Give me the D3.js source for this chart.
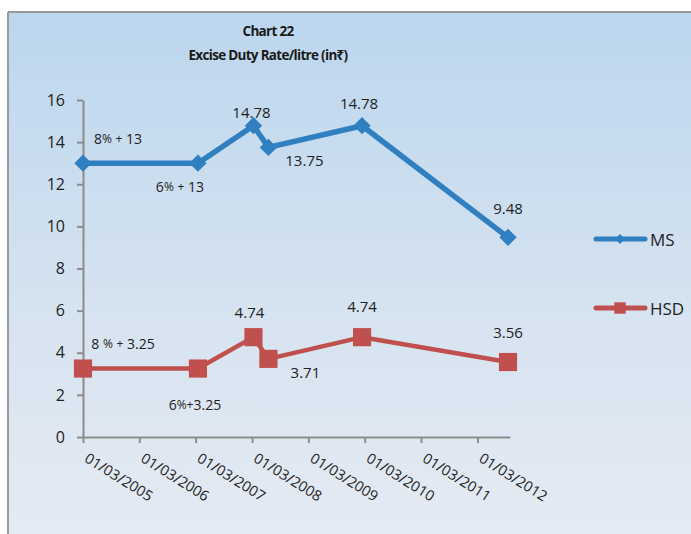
<!DOCTYPE html>
<html>
<head>
<meta charset="utf-8">
<script src="https://cdn.jsdelivr.net/npm/d3@7"></script>
<style>
  body { margin: 0; background: #fff; }
  svg { display: block; font-family: "Open Sans", "Noto Sans", sans-serif; }
</style>
</head>
<body>
<svg id="chart" width="691" height="534"></svg>
<script>
// data
var tickLabels = ["01/03/2005", "01/03/2006", "01/03/2007", "01/03/2008",
                  "01/03/2009", "01/03/2010", "01/03/2011", "01/03/2012"]
var changeDates = ["2005-03-01", "2007-03-16", "2008-03-10", "2008-06-15", "2010-02-12", "2012-09-15"]
var msValues = [13, 13, 14.78, 13.75, 14.78, 9.48]
var hsdValues = [3.25, 3.25, 4.74, 3.71, 4.74, 3.56]
var msLabels = ["8% + 13", "6% + 13", "14.78", "13.75", "14.78", "9.48"]
var hsdLabels = ["8 % + 3.25", "6%+3.25", "4.74", "3.71", "4.74", "3.56"]
var yTicks = [0, 2, 4, 6, 8, 10, 12, 14, 16]

// where each value label sits relative to its point
var msLabelOffsets = [[35, -25], [-18, 23], [-2, -14], [36, 13], [-3, -23], [0, -29]]
var hsdLabelOffsets = [[40, -26], [-3, 35], [-4, -25], [37, 13], [0, -31], [0, -30]]

var parseDay = d3.timeParse("%Y-%m-%d")
var parseTick = d3.timeParse("%d/%m/%Y")

var svg = d3.select("#chart")

// background panel
var defs = svg.append("defs")
var grad = defs.append("linearGradient")
    .attr("id", "bg")
    .attr("x1", 0).attr("y1", 0).attr("x2", 0).attr("y2", 1)
grad.append("stop").attr("offset", "0%").attr("stop-color", "#bcd6ee")
grad.append("stop").attr("offset", "55%").attr("stop-color", "#d6e3f0")
grad.append("stop").attr("offset", "100%").attr("stop-color", "#e6ebf4")

svg.append("rect")
    .attr("x", 8).attr("y", 12)
    .attr("width", 700).attr("height", 540)
    .attr("fill", "url(#bg)")
svg.append("line")
    .attr("x1", 8).attr("y1", 12).attr("x2", 691).attr("y2", 12)
    .attr("stroke", "#9a9a9a").attr("stroke-width", 2)
svg.append("line")
    .attr("x1", 8).attr("y1", 12).attr("x2", 8).attr("y2", 534)
    .attr("stroke", "#9a9a9a").attr("stroke-width", 2)

// title
var title = svg.append("text")
    .attr("x", 268)
    .attr("text-anchor", "middle")
    .attr("font-weight", "bold")
    .attr("font-size", 13.5)
    .attr("letter-spacing", -0.7)
    .attr("fill", "#1a1a1a")
title.append("tspan").attr("x", 268).attr("y", 36).text("Chart 22")
title.append("tspan").attr("x", 268).attr("y", 60).text("Excise Duty Rate/litre (in\u20B9)")

// scales
var x = d3.scaleTime()
    .domain([parseDay("2005-03-01"), parseDay("2012-09-28")])
    .range([83, 510])
var y = d3.scaleLinear()
    .domain([0, 16])
    .range([437, 100])

// axes
var yAxis = svg.append("g")
    .attr("transform", "translate(83,0)")
    .call(d3.axisLeft(y).tickValues(yTicks).tickSize(6).tickPadding(12).tickSizeOuter(0))
yAxis.selectAll("text")
    .attr("font-size", 16)
    .attr("font-family", "'Open Sans', sans-serif")
    .attr("fill", "#222")

var xAxis = svg.append("g")
    .attr("transform", "translate(0,437)")
    .call(d3.axisBottom(x)
        .tickValues(tickLabels.map(parseTick))
        .tickFormat(d3.timeFormat("%d/%m/%Y"))
        .tickSize(6)
        .tickSizeOuter(0))
xAxis.selectAll("text")
    .attr("font-size", 14.5)
    .attr("font-family", "'Open Sans', sans-serif")
    .attr("fill", "#222")
    .attr("text-anchor", "start")
    .attr("dy", null)
    .attr("y", 0)
    .attr("transform", "translate(0,24) rotate(32)")

svg.selectAll(".domain, .tick line")
    .attr("stroke", "#8c8c8c")
    .attr("stroke-width", 2)

var dates = changeDates.map(parseDay)

function drawSeries(values, color, lineW, shape, size, turn) {
    var pts = values.map(function(v, i) { return [x(dates[i]), y(v)] })
    svg.append("path")
        .attr("d", d3.line()(pts))
        .attr("fill", "none")
        .attr("stroke", color)
        .attr("stroke-width", lineW)
        .attr("stroke-linejoin", "round")
    svg.selectAll(null)
        .data(pts)
        .enter().append("path")
        .attr("transform", function(p) { return "translate(" + p[0] + "," + p[1] + ") rotate(" + turn + ")" })
        .attr("d", d3.symbol().type(shape).size(size))
        .attr("fill", color)
    return pts
}

function drawLabels(pts, labels, offsets) {
    svg.selectAll(null)
        .data(labels)
        .enter().append("text")
        .attr("x", function(d, i) { return pts[i][0] + offsets[i][0] })
        .attr("y", function(d, i) { return pts[i][1] + offsets[i][1] })
        .attr("text-anchor", "middle")
        .attr("dominant-baseline", "central")
        .attr("font-size", function(d) { return /%/.test(d) ? 14 : 15 })
        .attr("fill", "#222")
        .each(function(d) {
            // the small "%" and "+" the way they look in the picture
            var el = d3.select(this)
            var parts = d.split(/([%+])/)
            parts.forEach(function(s) {
                if (s === "") return
                var t = el.append("tspan").text(s)
                if (s === "%" || s === "+") t.attr("font-size", 12)
            })
        })
}

var msPts = drawSeries(msValues, "#2f7fc1", 5.5, d3.symbolSquare, 150, 45)
var hsdPts = drawSeries(hsdValues, "#c0504d", 4.5, d3.symbolSquare, 330, 0)
drawLabels(msPts, msLabels, msLabelOffsets)
drawLabels(hsdPts, hsdLabels, hsdLabelOffsets)

// legend
var legend = [
    { name: "MS", color: "#2f7fc1", size: 50, turn: 45, y: 239 },
    { name: "HSD", color: "#c0504d", size: 130, turn: 0, y: 308 }
]
legend.forEach(function(l) {
    svg.append("line")
        .attr("x1", 596).attr("x2", 645)
        .attr("y1", l.y).attr("y2", l.y)
        .attr("stroke", l.color).attr("stroke-width", 5)
        .attr("stroke-linecap", "round")
    svg.append("path")
        .attr("transform", "translate(620," + l.y + ") rotate(" + l.turn + ")")
        .attr("d", d3.symbol().type(d3.symbolSquare).size(l.size))
        .attr("fill", l.color)
    svg.append("text")
        .attr("x", 650).attr("y", l.y)
        .attr("dominant-baseline", "central")
        .attr("font-size", 17)
        .attr("fill", "#222")
        .text(l.name)
})
</script>
</body>
</html>
